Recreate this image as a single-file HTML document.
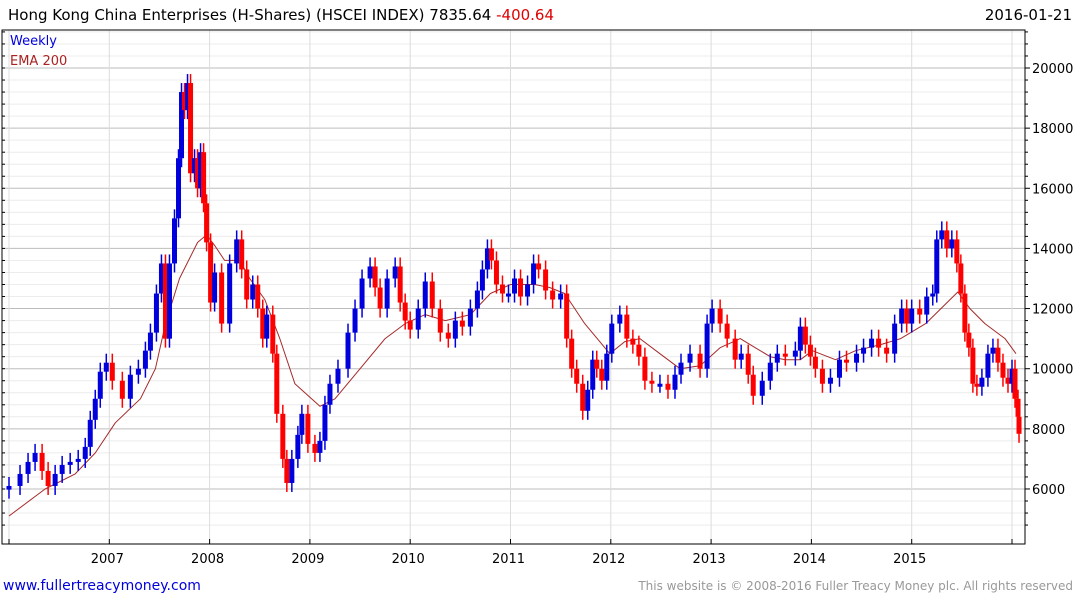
<!DOCTYPE html>
<html><head><meta charset="utf-8">
<style>
body{margin:0;background:#fff;}
svg{display:block;font-family:"DejaVu Sans","Liberation Sans",sans-serif;}
</style></head>
<body>
<svg id="chart" width="1075" height="600" viewBox="0 0 1075 600">
  <g id="grid"></g>
  <g id="ema"></g>
  <g id="candles"></g>
  <g id="axes"></g>
  <text x="8" y="20" font-size="15" fill="#000">Hong Kong China Enterprises (H-Shares) (HSCEI INDEX) 7835.64 <tspan fill="#e00000">-400.64</tspan></text>
  <text x="1072" y="20" font-size="15" text-anchor="end" fill="#000">2016-01-21</text>
  <text x="10" y="45" font-size="13" fill="#0000dd">Weekly</text>
  <text x="10" y="65" font-size="13" fill="#aa2222">EMA 200</text>
  <text x="3" y="590" font-size="14" fill="#0000dd">www.fullertreacymoney.com</text>
  <text x="1073" y="590" font-size="12" text-anchor="end" fill="#999">This website is © 2008-2016 Fuller Treacy Money plc. All rights reserved</text>
</svg>
<script>
const priceDates=[2006.00,2006.11,2006.19,2006.26,2006.33,2006.39,2006.46,2006.53,2006.61,2006.69,2006.76,2006.81,2006.86,2006.91,2006.97,
2007.03,2007.13,2007.21,2007.29,2007.36,2007.41,2007.47,2007.52,2007.56,2007.60,2007.65,2007.69,2007.72,2007.75,2007.78,2007.81,2007.85,2007.88,2007.91,2007.94,2007.97,
2008.01,2008.05,2008.12,2008.20,2008.27,2008.32,2008.37,2008.43,2008.48,2008.53,2008.57,2008.63,2008.67,2008.73,2008.77,2008.82,2008.88,2008.92,2008.98,
2009.05,2009.10,2009.15,2009.20,2009.28,2009.38,2009.45,2009.52,2009.60,2009.65,2009.70,2009.77,2009.85,2009.90,2009.95,
2010.00,2010.08,2010.15,2010.22,2010.30,2010.38,2010.45,2010.52,2010.60,2010.67,2010.72,2010.77,2010.81,2010.86,2010.92,2010.98,
2011.04,2011.10,2011.17,2011.23,2011.28,2011.35,2011.42,2011.50,2011.56,2011.61,2011.66,2011.72,2011.77,2011.82,2011.86,2011.91,2011.96,
2012.01,2012.09,2012.16,2012.22,2012.28,2012.34,2012.41,2012.49,2012.57,2012.64,2012.70,2012.79,2012.89,2012.96,
2013.01,2013.09,2013.16,2013.24,2013.30,2013.37,2013.42,2013.51,2013.59,2013.66,2013.74,2013.84,2013.89,2013.94,2013.99,
2014.04,2014.11,2014.19,2014.28,2014.35,2014.45,2014.52,2014.60,2014.67,2014.75,2014.83,2014.90,2014.95,
2015.00,2015.08,2015.15,2015.21,2015.25,2015.30,2015.35,2015.40,2015.45,2015.49,2015.53,2015.57,2015.61,2015.65,2015.70,2015.76,2015.81,2015.86,2015.91,2015.96,
2016.00,2016.03,2016.06,2016.07];
const priceClose=[6100,6500,6900,7200,6600,6100,6500,6800,6900,7000,7400,8300,9000,9900,10200,
9600,9000,9800,10000,10600,11200,12500,13500,11000,13500,15000,17000,19200,18600,19500,16500,17000,16000,17200,15500,14200,
12200,13200,11500,13500,14300,13300,12300,12800,12000,11000,11800,10500,8500,7000,6200,7000,7800,8500,7500,
7200,7600,8800,9500,10000,11200,12000,13000,13400,12700,12000,13000,13400,12200,11600,
11300,12000,12900,12000,11200,11000,11600,11400,12000,12600,13300,14000,13600,12800,12500,12500,
13000,12400,12800,13500,13300,12600,12300,12500,11000,10000,9500,8600,9300,10300,10000,9600,10500,
11500,11800,11000,10800,10400,9600,9500,9500,9300,9800,10200,10500,10000,11500,
12000,11500,11000,10300,10500,9800,9100,9600,10200,10500,10400,10600,11400,10800,10400,
10000,9500,9700,10300,10200,10500,10700,11000,10700,10500,11500,12000,11500,
12000,11800,12400,12500,14300,14600,14000,14300,13500,12500,11200,10700,9500,9400,9700,10500,10700,10200,9700,9500,
10000,9000,8400,7835];
const emaDates=[2006.00,2006.36,2006.66,2006.86,2007.06,2007.31,2007.46,2007.56,2007.70,2007.88,2007.97,2008.05,2008.15,2008.30,2008.40,2008.55,2008.70,2008.85,2009.10,2009.25,2009.50,2009.75,2009.95,2010.15,2010.35,2010.60,2010.80,2011.00,2011.24,2011.39,2011.54,2011.74,2011.99,2012.14,2012.29,2012.49,2012.69,2012.89,2013.09,2013.29,2013.44,2013.59,2013.74,2013.89,2014.01,2014.24,2014.44,2014.69,2014.89,2015.14,2015.46,2015.58,2015.73,2015.93,2016.04];
const emaValues=[5100,6000,6500,7200,8200,9000,10000,11500,13000,14200,14450,14100,13600,13600,13000,12300,11000,9500,8750,9000,10000,11000,11500,11800,11600,11800,12500,12800,12800,12700,12500,11500,10500,10900,11000,10500,10000,10100,10700,11000,10700,10400,10300,10300,10600,10300,10600,10800,11000,11500,12550,12000,11500,11000,10500];
const yTickLabels=["6000","8000","10000","12000","14000","16000","18000","20000"];
const xTickLabels=["2007","2008","2009","2010","2011","2012","2013","2014","2015"];

const NS="http://www.w3.org/2000/svg";
const L=2,R=1025,T=30,B=544;
function xs(t){return 9+(t-2006)*100.3;}
function ys(v){return 68+(20000-v)*0.03007;}
function mk(tag,attrs,parent){const e=document.createElementNS(NS,tag);for(const k in attrs)e.setAttribute(k,attrs[k]);parent.appendChild(e);return e;}
const grid=document.getElementById('grid'),axes=document.getElementById('axes');
for(let v=4800;v<=21200;v+=400){
  const y=ys(v); if(y<T||y>B)continue;
  const major=v%2000===0;
  const ln=mk('line',{x1:L,x2:R,y1:y,y2:y,stroke:major?'#bdbdbd':'#ececec','stroke-width':1},grid);
  
  
  const tk=mk('line',{x1:R,x2:R+(major?5:3),y1:y,y2:y,stroke:'#000'},axes);
  
  
  const tl=mk('line',{x1:L,x2:L+3,y1:y,y2:y,stroke:'#000'},axes);
  
  
}
yTickLabels.forEach(s=>{
  const t=mk('text',{x:R+7,y:ys(+s)+5,'font-size':13,fill:'#000'},axes);
  t.textContent=s;
  
  
});
for(let yr=2006;yr<=2016;yr++){
  const x=xs(yr);
  const g=mk('line',{x1:x,x2:x,y1:T,y2:B,stroke:'#dcdcdc'},grid);
  
  
  const tk=mk('line',{x1:x,x2:x,y1:B,y2:B-5,stroke:'#000'},axes);
  
  
}
xTickLabels.forEach(s=>{
  const t=mk('text',{x:xs(+s)-2,y:563,'font-size':13,'text-anchor':'middle',fill:'#000'},axes);
  t.textContent=s;
  
  
});
const fr=mk('rect',{x:L,y:T,width:R-L,height:B-T,fill:'none',stroke:'#000','stroke-width':1},axes);


const pts=emaDates.map((d,i)=>xs(d).toFixed(1)+','+ys(emaValues[i]).toFixed(1)).join(' ');
const pl=mk('polyline',{points:pts,fill:'none',stroke:'#a52a2a','stroke-width':1,'stroke-linejoin':'round'},document.getElementById('ema'));


const cg=document.getElementById('candles');
priceDates.forEach((d,i)=>{
  const c=priceClose[i],o=i>0?priceClose[i-1]:c*0.98;
  const up=c>=o,col=up?'#0000dd':'#ff0000';
  const x=xs(d),y1=ys(Math.max(o,c)),y2=ys(Math.min(o,c));
  const w=mk('line',{x1:x,x2:x,y1:y1-9,y2:y2+9,stroke:col,'stroke-width':1.5},cg);
  
  
  const r=mk('rect',{x:x-2.5,y:y1,width:5,height:Math.max(3,y2-y1),fill:col},cg);
  
  
});
</script>
</body></html>
